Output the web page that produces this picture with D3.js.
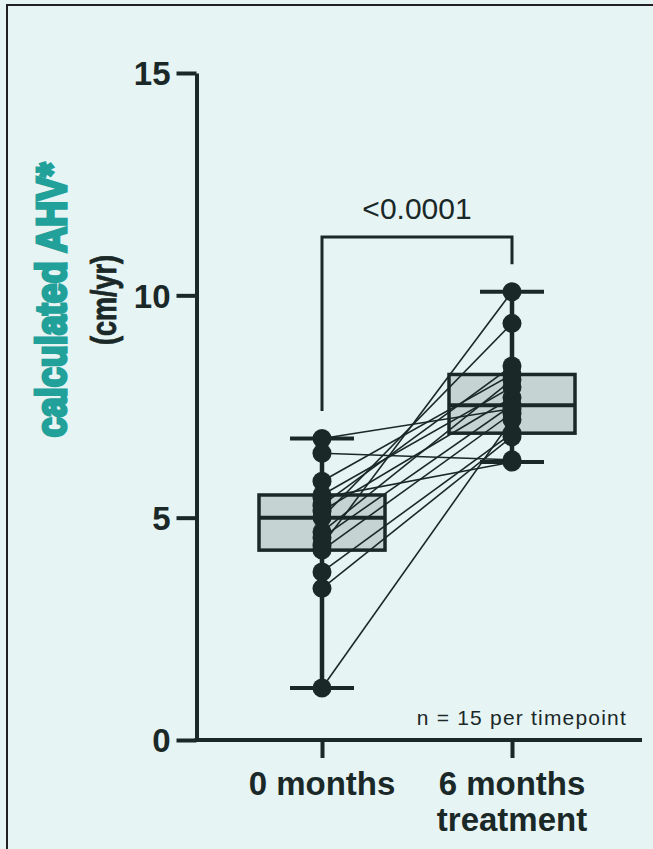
<!DOCTYPE html>
<html>
<head>
<meta charset="utf-8">
<script src="https://cdn.jsdelivr.net/npm/d3@7"></script>
<style>
  html, body { margin: 0; padding: 0; background: #e6f4f4; }
  svg { display: block; }
  text { font-family: "Liberation Sans", Arial, Helvetica, sans-serif; }
</style>
</head>
<body>
<svg id="chart" width="653" height="849"></svg>
<script>
// Paired AHV measurements (cm/yr), one entry per subject, same order in both arrays
const categories = ["0 months", "6 months treatment"];
const categoryLines = [["0 months"], ["6 months", "treatment"]];
const month0 = [6.78, 6.45, 5.82, 5.51, 5.45, 5.28, 5.15, 5.00, 4.68, 4.55, 4.38, 4.27, 3.78, 3.41, 1.17];
const month6 = [7.45, 6.30, 8.22, 7.94, 6.25, 8.41, 7.70, 9.37, 8.10, 7.53, 10.08, 7.35, 6.90, 6.82, 7.20];
const yTicks = [0, 5, 10, 15];
const pLabel = "<0.0001";
const bracketTop = 11.31;
const bracketLegs = [7.4, 10.7];
const noteText = "n = 15 per timepoint";

const ink = "#1b2828";
const teal = "#22a09a";
const boxFill = "#c6d3d3";

const svg = d3.select("#chart");
svg.append("rect").attr("width", 653).attr("height", 849).attr("fill", "#e6f4f4");
// frame
svg.append("path").attr("d", "M7,849 V5 H653").attr("fill", "none")
  .attr("stroke", "#202020").attr("stroke-width", 2);

const y = d3.scaleLinear().domain([0, 15]).range([740, 73]);
const x = d3.scalePoint().domain(categories).range([322, 512]);
const axisX0 = 196.5, axisX1 = 642;

// quartiles using the (n+1)p rule
function q(sorted, p) {
  const n = sorted.length, pos = (n + 1) * p;
  const lo = Math.max(1, Math.min(n, Math.floor(pos)));
  const hi = Math.max(1, Math.min(n, Math.ceil(pos)));
  return sorted[lo - 1] + (pos - Math.floor(pos)) * (sorted[hi - 1] - sorted[lo - 1]);
}
const groups = [month0, month6].map((vals, i) => {
  const s = vals.slice().sort(d3.ascending);
  return { cat: categories[i], vals, min: s[0], max: s[s.length - 1],
           q1: q(s, 0.25), med: q(s, 0.5), q3: q(s, 0.75) };
});

const boxW = 126, capW = 64;

// boxes
const g = svg.append("g");
groups.forEach(d => {
  const cx = x(d.cat);
  g.append("rect")
    .attr("x", cx - boxW / 2).attr("y", y(d.q3))
    .attr("width", boxW).attr("height", y(d.q1) - y(d.q3))
    .attr("fill", boxFill).attr("stroke", ink).attr("stroke-width", 3.5);
  g.append("line")
    .attr("x1", cx - boxW / 2).attr("x2", cx + boxW / 2)
    .attr("y1", y(d.med)).attr("y2", y(d.med))
    .attr("stroke", ink).attr("stroke-width", 4);
});

// whiskers
groups.forEach(d => {
  const cx = x(d.cat);
  g.append("line").attr("x1", cx).attr("x2", cx)
    .attr("y1", y(d.max)).attr("y2", y(d.q3))
    .attr("stroke", ink).attr("stroke-width", 4.5);
  g.append("line").attr("x1", cx).attr("x2", cx)
    .attr("y1", y(d.q1)).attr("y2", y(d.min))
    .attr("stroke", ink).attr("stroke-width", 4.5);
  [d.min, d.max].forEach(v => {
    g.append("line").attr("x1", cx - capW / 2).attr("x2", cx + capW / 2)
      .attr("y1", y(v)).attr("y2", y(v))
      .attr("stroke", ink).attr("stroke-width", 4);
  });
});

// paired lines
g.selectAll("line.pair").data(month0.map((v, i) => [v, month6[i]]))
  .join("line").attr("class", "pair")
  .attr("x1", x(categories[0])).attr("x2", x(categories[1]))
  .attr("y1", d => y(d[0])).attr("y2", d => y(d[1]))
  .attr("stroke", ink).attr("stroke-width", 1.6);

// points
groups.forEach(d => {
  g.selectAll(null).data(d.vals).join("circle")
    .attr("cx", x(d.cat)).attr("cy", v => y(v)).attr("r", 9.5)
    .attr("fill", ink);
});

// y axis
const yAxis = svg.append("g").attr("transform", `translate(${axisX0},0)`)
  .call(d3.axisLeft(y).tickValues(yTicks).tickFormat(d3.format("d"))
    .tickSize(20).tickSizeOuter(0).tickPadding(6));
yAxis.select(".domain").attr("stroke", ink).attr("stroke-width", 4);
yAxis.selectAll(".tick line").attr("stroke", ink).attr("stroke-width", 4);
yAxis.selectAll(".tick text").attr("fill", ink)
  .style("font-size", "33px").style("font-weight", "bold").attr("dy", "0.36em");

// x axis
svg.append("line").attr("x1", axisX0 - 2).attr("x2", axisX1)
  .attr("y1", y(0)).attr("y2", y(0)).attr("stroke", ink).attr("stroke-width", 4);
const xAxis = svg.append("g").attr("transform", `translate(0,${y(0)})`)
  .call(d3.axisBottom(x).tickSize(18).tickSizeOuter(0).tickFormat(() => ""));
xAxis.select(".domain").remove();
xAxis.selectAll(".tick line").attr("stroke", ink).attr("stroke-width", 4);
categories.forEach((c, i) => {
  const t = svg.append("text").attr("x", x(c)).attr("y", 795)
    .attr("text-anchor", "middle").attr("fill", ink)
    .style("font-size", "33px").style("font-weight", "bold");
  categoryLines[i].forEach((ln, j) => {
    t.append("tspan").attr("x", x(c)).attr("dy", j === 0 ? 0 : 36).text(ln);
  });
});

// y titles (glyphs stretched in height for a heavier, taller look)
svg.append("text")
  .attr("transform", `translate(66,300) rotate(-90) scale(1,1.18)`)
  .attr("text-anchor", "middle").attr("fill", teal)
  .attr("stroke", teal).attr("stroke-width", 2.6)
  .style("font-size", "36px").style("font-weight", "bold")
  .text("calculated AHV*");
svg.append("text")
  .attr("transform", `translate(116,300) rotate(-90) scale(1,1.3)`)
  .attr("text-anchor", "middle").attr("fill", ink)
  .attr("stroke", ink).attr("stroke-width", 0.6)
  .style("font-size", "27px").style("font-weight", "bold")
  .text("(cm/yr)");

// significance bracket
const bx0 = x(categories[0]), bx1 = x(categories[1]);
svg.append("path")
  .attr("d", `M${bx0},${y(bracketLegs[0])} V${y(bracketTop)} H${bx1} V${y(bracketLegs[1])}`)
  .attr("fill", "none").attr("stroke", ink).attr("stroke-width", 3);
svg.append("text").attr("x", (bx0 + bx1) / 2).attr("y", 219)
  .attr("text-anchor", "middle").attr("fill", ink)
  .style("font-size", "30px").text(pLabel);

// sample size note
svg.append("text").attr("x", 627).attr("y", 725)
  .attr("text-anchor", "end").attr("fill", ink)
  .style("font-size", "21px").style("letter-spacing", "1.2px").text(noteText);
</script>
</body>
</html>
